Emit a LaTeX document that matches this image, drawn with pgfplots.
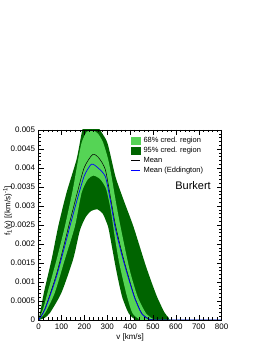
\documentclass[border=0pt]{standalone}
\usepackage{fontspec}
\setmainfont{Liberation Sans}
\usepackage{pgfplots}
\pgfplotsset{compat=1.18}
\usepgfplotslibrary{fillbetween}
\definecolor{lg}{RGB}{85,212,85}
\definecolor{dg}{RGB}{0,100,0}
\begin{document}
\begin{tikzpicture}
\begin{axis}[
  at={(38pt,24pt)}, anchor=south west, scale only axis,
  width=183pt, height=190pt,
  xmin=0, xmax=800, ymin=0, ymax=0.005,
  xtick={0,100,200,300,400,500,600,700,800},
  minor x tick num=4,
  ytick={0,0.0005,0.001,0.0015,0.002,0.0025,0.003,0.0035,0.004,0.0045,0.005},
  yticklabels={0,0.0005,0.001,0.0015,0.002,0.0025,0.003,0.0035,0.004,0.0045,0.005},
  minor y tick num=4,
  scaled y ticks=false,
  tick align=inside,
  major tick length=5pt, minor tick length=2.5pt,
  tick style={black, line width=0.4pt},
  axis line style={line width=0.5pt},
  axis on top,
  ticklabel style={font=\fontsize{8}{9}\selectfont},
  /pgf/number format/assume math mode=true,
  xlabel={v [km/s]},
  ylabel={f\textsubscript{1}(v) [(km/s)\textsuperscript{-1}]},
  label style={font=\fontsize{8}{9}\selectfont},
  xlabel style={at={(axis description cs:0.5,0)}, anchor=center, yshift=-17pt},
  ylabel style={at={(axis description cs:0,0.574)}, anchor=center, yshift=31pt},
  legend style={at={(rel axis cs:0.503,0.965)}, anchor=north west, draw=none, fill=none,
    font=\fontsize{7.5}{9}\selectfont, inner sep=0pt, row sep=2.5pt,
    nodes={inner sep=0pt, text height=6pt, text depth=1.5pt},
    /tikz/every odd column/.append style={column sep=3pt}},
  legend cell align=left,
]
\addlegendimage{legend image code/.code={\fill[lg] (0pt,-3.5pt) rectangle (9pt,3.5pt);}}
\addlegendentry{68\% cred. region}
\addlegendimage{legend image code/.code={\fill[dg] (0pt,-3.5pt) rectangle (9pt,3.5pt);}}
\addlegendentry{95\% cred. region}
\addlegendimage{legend image code/.code={\draw[black, line width=0.5pt] (0pt,0pt) -- (9pt,0pt);}}
\addlegendentry{Mean}
\addlegendimage{legend image code/.code={\draw[blue, line width=0.7pt] (0pt,0pt) -- (9pt,0pt);}}
\addlegendentry{Mean (Eddington)}

% 95% upper
\addplot[draw=none, smooth, tension=0.4, name path=u95, forget plot] coordinates {
(0,0)(10,0.0003)(23,0.00072)(57,0.0016)(86,0.00247)(122,0.00335)(166,0.00423)(191,0.0050)(215,0.0054)(235,0.0054)(258,0.0051)(300,0.00467)(336,0.00377)(375,0.0031)(415,0.00245)(470,0.0014)(515,0.00065)(550,0.0002)(570,0.00005)(585,0)(800,0)};
% 95% lower
\addplot[draw=none, smooth, tension=0.4, name path=l95, forget plot] coordinates {
(0,0)(25,0.00005)(50,0.00019)(100,0.00072)(151,0.0016)(180,0.00235)(205,0.0027)(230,0.00287)(258,0.00291)(280,0.0028)(295,0.0026)(307,0.00237)(339,0.00132)(365,0.00061)(394,0.00017)(420,0.00002)(440,0)(800,0)};
% 68% upper
\addplot[draw=none, smooth, tension=0.4, name path=u68, forget plot] coordinates {
(0,0)(20,0.0003)(39,0.00072)(79,0.0016)(115,0.00247)(150,0.00345)(173,0.00423)(188,0.00467)(210,0.00495)(235,0.0050)(260,0.0049)(282,0.00467)(304,0.00423)(319,0.00377)(338,0.0031)(360,0.0024)(398,0.00132)(433,0.00061)(470,0.00017)(500,0.00003)(530,0)(800,0)};
% 68% lower
\addplot[draw=none, smooth, tension=0.4, name path=l68, forget plot] coordinates {
(0,0)(30,0.0002)(71,0.00072)(115,0.0016)(159,0.00247)(188,0.00335)(215,0.0037)(240,0.0038)(270,0.0037)(295,0.00345)(315,0.0029)(335,0.0021)(354,0.00145)(385,0.00065)(410,0.00018)(440,0.00002)(460,0)(800,0)};

\addplot[dg, draw=none, forget plot] fill between[of=u95 and l95];
\addplot[lg, draw=none, forget plot] fill between[of=u68 and l68];

% Mean
\addplot[black, line width=0.5pt, smooth, tension=0.4, forget plot] coordinates {
(0,0)(28,0.0003)(79,0.00122)(137,0.0026)(170,0.00337)(200,0.00402)(237,0.00436)(265,0.00425)(292,0.00395)(315,0.0032)(334,0.00255)(360,0.00187)(382,0.00137)(418,0.00063)(450,0.00018)(480,0.00003)(510,0)};
% Mean (Eddington)
\addplot[blue, line width=0.7pt, smooth, tension=0.4, forget plot] coordinates {
(0,0)(28,0.00028)(79,0.00116)(137,0.00247)(170,0.0032)(200,0.0038)(231,0.0041)(260,0.0040)(292,0.00377)(315,0.0031)(334,0.00245)(360,0.0018)(382,0.00132)(418,0.00061)(450,0.00017)(480,0.00003)(510,0)(800,0)};

\node[font=\fontsize{11}{12}\selectfont] at (rel axis cs:0.844,0.705) {Burkert};
\end{axis}
\path (0pt,0pt) rectangle (266pt,344pt);
\end{tikzpicture}
\end{document}
